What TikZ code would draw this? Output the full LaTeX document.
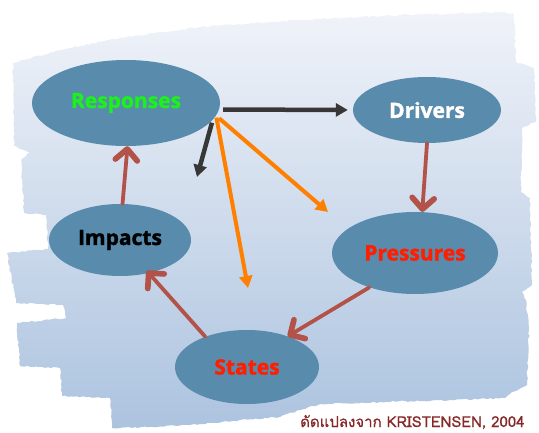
\documentclass[tikz,border=0pt]{standalone}
\usepackage{fontspec}
\setmainfont{Open Sans}
\newfontfamily\labfont[BoldFeatures={FakeBold=1.6}]{Open Sans}
\newfontfamily\thaifont[Script=Thai,FakeBold=0.7]{Loma}
\usetikzlibrary{arrows.meta,shapes.geometric,decorations.pathmorphing}
\definecolor{ellfill}{RGB}{88,139,172}
\definecolor{bgtop}{RGB}{240,243,249}
\definecolor{bgmid}{RGB}{208,219,234}
\definecolor{bgbot}{RGB}{172,195,223}
\definecolor{brownarr}{RGB}{178,82,72}
\definecolor{darkarr}{RGB}{55,55,55}
\definecolor{orangearr}{RGB}{255,128,0}
\definecolor{resgreen}{RGB}{30,240,30}
\definecolor{labred}{RGB}{255,30,0}
\definecolor{thaired}{RGB}{135,40,40}
\begin{document}
\begin{tikzpicture}[x=1pt,y=-1pt,
  blob/.style={ellipse, fill=ellfill, inner sep=0pt, font=\labfont\fontsize{21}{24}\selectfont\bfseries},
  causal/.style={draw=brownarr, line width=3.8pt, line cap=round,
    -{Straight Barb[length=11pt,width=22pt,line width=0pt 1.5,line cap=round,line join=round]}},
  darkline/.style={draw=darkarr, line width=4.5pt, -{Triangle[length=12pt,width=13pt]}},
  orangeline/.style={draw=orangearr, line width=4pt, -{Triangle[length=12pt,width=13pt]}}]
\useasboundingbox (0,0) rectangle (539,433);
\shade[top color=bgtop, middle color=bgmid, bottom color=bgbot,
  decorate, decoration={random steps, segment length=3pt, amplitude=0.8pt}]
  (13,63) -- (60,50) -- (120,38) -- (200,27) -- (300,20) -- (400,15) -- (500,12) -- (514,14)
  -- (516,62) -- (534,68) -- (536,122) -- (522,128) -- (521,192) -- (530,198) -- (532,285)
  -- (522,292) -- (526,300) -- (529,330) -- (527,385) -- (512,392) -- (505,398)
  -- (450,400) -- (380,402) -- (320,404) -- (300,410) -- (280,417) -- (240,420) -- (200,424)
  -- (150,427) -- (112,428) -- (110,398) -- (62,396) -- (60,368) -- (20,366) -- (17,323)
  -- (66,318) -- (63,305) -- (16,303) -- (7,253) -- (48,249) -- (46,215) -- (24,213)
  -- (21,160) -- (30,152) -- (14,146) -- cycle;

\node[blob, minimum width=188pt, minimum height=86pt, text=resgreen] (resp) at (126,103) {Responses};
\node[blob, minimum width=148pt, minimum height=66pt, text=white] (drv) at (427,110) {Drivers};
\node[blob, minimum width=166pt, minimum height=82pt, text=labred] (prs) at (415,253) {Pressures};
\node[blob, minimum width=144pt, minimum height=74pt, text=labred] (sts) at (247,367) {States};
\node[blob, minimum width=142pt, minimum height=72pt, text=black] (imp) at (120,240) {Impacts};

\coordinate (blackend) at (197,177);
\coordinate (orangeA) at (248,288);
\coordinate (orangeB) at (328,212);

\draw[darkline, shorten <=4pt, shorten >=5pt] (resp.-4.3) -- (drv.west);
\draw[darkline, shorten <=3pt] (resp.-11) -- (blackend);
\draw[orangeline, shorten <=2pt] (resp.-8) -- (orangeA);
\draw[orangeline, shorten <=4pt] (resp.-8) -- (orangeB);

\draw[causal] (drv.south) -- (prs.80);
\draw[causal] (prs.217) -- (sts.37);
\draw[causal, shorten >=-3pt] (sts.144.5) -- (imp.-49);
\draw[causal] (imp.86) -- (resp.-88);

\node[anchor=base west, text=thaired, inner sep=0pt, font=\thaifont\fontsize{15}{18}\selectfont] (src) at (300,427) {ดัดแปลงจาก KRISTENSEN, 2004};
\end{tikzpicture}
\end{document}
